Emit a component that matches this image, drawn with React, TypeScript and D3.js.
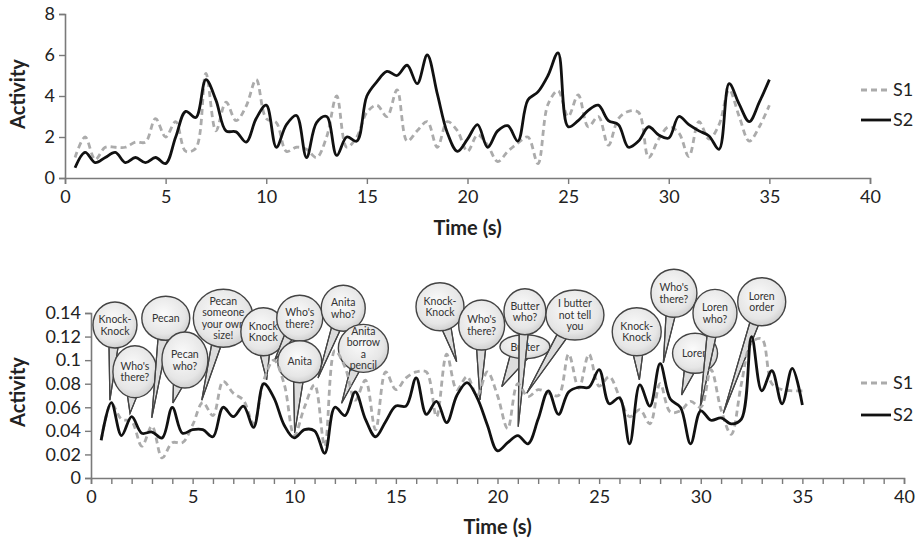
import React, { useEffect, useRef } from 'react';
import * as d3 from 'd3';

// time stamps (s), shared by both panels
const times = [
  0.5, 1, 1.5, 2, 2.5, 3, 3.5, 4, 4.5, 5, 5.5, 6, 6.5, 7, 7.5, 8, 8.5, 9, 9.5, 10,
  10.5, 11, 11.5, 12, 12.5, 13, 13.5, 14, 14.5, 15, 15.5, 16, 16.5, 17, 17.5, 18, 18.5, 19, 19.5, 20,
  20.5, 21, 21.5, 22, 22.5, 23, 23.5, 24, 24.5, 25, 25.5, 26, 26.5, 27, 27.5, 28, 28.5, 29, 29.5, 30,
  30.5, 31, 31.5, 32, 32.5, 33, 33.5, 34, 34.5, 35,
];

// top panel
const topS1 = [
  1.0, 2.0, 0.9, 1.5, 1.5, 1.5, 1.75, 1.75, 2.9, 2.0, 2.75, 1.3, 1.45, 5.1, 2.3, 3.7, 2.8, 3.5, 4.8, 2.9,
  2.7, 1.3, 1.5, 1.4, 1.0, 2.0, 4.0, 1.5, 2.0, 3.2, 3.55, 3.0, 4.3, 1.8, 2.3, 2.75, 1.5, 2.75, 2.3, 1.3,
  2.1, 1.6, 0.8, 1.3, 1.7, 2.0, 0.7, 3.6, 4.25, 3.0, 4.05, 2.5, 3.0, 1.6, 2.9, 3.25, 3.2, 1.0, 1.9, 2.5,
  2.2, 1.05, 2.75, 1.9, 2.6, 4.3, 3.0, 1.8, 2.5, 3.55,
];
const topS2 = [
  0.5, 1.25, 0.75, 1.0, 1.25, 0.75, 1.0, 0.75, 1.0, 0.7, 2.0, 3.25, 2.95, 4.8, 3.8, 2.3, 2.25, 1.75, 2.9, 3.55,
  1.5, 2.6, 3.05, 1.0, 2.7, 3.0, 1.1, 2.0, 1.8, 4.0, 4.7, 5.2, 5.0, 5.5, 4.6, 6.0, 4.1, 2.2, 1.3, 1.9,
  2.6, 1.5, 2.3, 2.55, 1.8, 3.8, 4.2, 5.0, 6.1, 2.5, 2.8, 3.3, 3.55, 2.8, 2.6, 1.5, 1.8, 2.5, 2.1, 1.95,
  3.0, 2.6, 2.3, 2.05, 1.4, 4.6, 3.6, 2.75, 3.7, 4.8,
];

// bottom panel
const botS1 = [
  0.032, 0.063, 0.05, 0.048, 0.027, 0.044, 0.017, 0.03, 0.03, 0.045, 0.064, 0.053, 0.082, 0.072, 0.066, 0.046, 0.083, 0.1, 0.08, 0.036,
  0.06, 0.079, 0.027, 0.108, 0.094, 0.066, 0.083, 0.041, 0.09, 0.075, 0.085, 0.09, 0.09, 0.052, 0.105, 0.075, 0.086, 0.07, 0.09, 0.07,
  0.042, 0.08, 0.069, 0.075, 0.072, 0.07, 0.105, 0.076, 0.105, 0.078, 0.086, 0.069, 0.052, 0.058, 0.046, 0.08, 0.056, 0.057, 0.065, 0.06,
  0.092, 0.058, 0.037, 0.08, 0.115, 0.118, 0.08, 0.075, 0.074, 0.074,
];
const botS2 = [
  0.032, 0.064, 0.036, 0.052, 0.038, 0.039, 0.034, 0.06, 0.038, 0.041, 0.041, 0.035, 0.06, 0.052, 0.061, 0.043, 0.08, 0.068, 0.045, 0.034,
  0.041, 0.04, 0.021, 0.06, 0.053, 0.073, 0.05, 0.035, 0.048, 0.061, 0.061, 0.085, 0.054, 0.065, 0.047, 0.07, 0.081, 0.068, 0.045, 0.023,
  0.03, 0.036, 0.029, 0.05, 0.074, 0.054, 0.073, 0.077, 0.077, 0.092, 0.063, 0.068, 0.029, 0.079, 0.061, 0.097, 0.067, 0.06, 0.029, 0.057,
  0.049, 0.051, 0.046, 0.05, 0.12, 0.074, 0.091, 0.063, 0.093, 0.062,
];

const xTicks = [0, 5, 10, 15, 20, 25, 30, 35, 40];
const topYTicks = [0, 2, 4, 6, 8];
const botYTicks = [0, 0.02, 0.04, 0.06, 0.08, 0.1, 0.12, 0.14];
const seriesNames = ['S1', 'S2'];

// speech bubbles: text, bubble centre (t, activity), tail tip (t, activity), radii in px
const bubbles = [
  { text: ['Pecan', 'someone', 'your own', 'size!'], c: [6.51, 0.1355], tip: [5.45, 0.066], r: [30, 29] },
  { text: ['Knock-', 'Knock'], c: [1.18, 0.1298], tip: [0.93, 0.066], r: [22, 23] },
  { text: ["Who's", 'there?'], c: [2.16, 0.0902], tip: [1.92, 0.055], r: [22, 26] },
  { text: ['Pecan'], c: [3.68, 0.1355], tip: [2.99, 0.051], r: [24, 22] },
  { text: ['Pecan', 'who?'], c: [4.62, 0.1001], tip: [4.03, 0.0636], r: [23, 28] },
  { text: ['Knock', 'Knock'], c: [8.48, 0.1241], tip: [8.64, 0.0832], r: [22.5, 24] },
  { text: ["Who's", 'there?'], c: [10.27, 0.1355], tip: [9.04, 0.1001], r: [23, 23] },
  { text: ['Anita'], c: [10.27, 0.0987], tip: [10.02, 0.0382], r: [22, 21] },
  { text: ['Anita', 'who?'], c: [12.41, 0.144], tip: [11.17, 0.0848], r: [22, 23] },
  { text: ['Anita', 'borrow', 'a', 'pencil'], c: [13.4, 0.11], tip: [12.33, 0.0634], r: [25, 24] },
  { text: ['Knock-', 'Knock'], c: [17.17, 0.1453], tip: [17.99, 0.0987], r: [24, 24] },
  { text: ["Who's", 'there?'], c: [19.22, 0.1298], tip: [19.14, 0.0662], r: [23, 25] },
  { text: ['Butter'], c: [21.35, 0.1114], tip: [20.21, 0.0775], r: [25, 12] },
  { text: ['Butter', 'who?'], c: [21.35, 0.1411], tip: [21.02, 0.0435], r: [21, 23] },
  { text: ['I butter', 'not tell', 'you'], c: [23.81, 0.1383], tip: [21.44, 0.0719], r: [29, 25] },
  { text: ['Knock-', 'Knock'], c: [26.85, 0.1241], tip: [26.98, 0.0832], r: [24.5, 24] },
  { text: ["Who's", 'there?'], c: [28.68, 0.1567], tip: [28.16, 0.0976], r: [23, 24] },
  { text: ['Loren'], c: [29.72, 0.1058], tip: [29.06, 0.0704], r: [22.5, 20] },
  { text: ['Loren', 'who?'], c: [30.7, 0.1397], tip: [29.96, 0.0577], r: [22, 24] },
  { text: ['Loren', 'order'], c: [33.0, 0.1496], tip: [31.11, 0.0549], r: [24, 24] },
];

const FONT = 'Lato, "Open Sans", sans-serif';
const GRAY = '#ababab';
const DARK = '#111';
const AXIS = '#7a7a7a';

function App() {
  const ref = useRef<SVGSVGElement>(null);

  useEffect(() => {
    const svg = d3.select(ref.current);
    svg.selectAll('*').remove();

    const defs = svg.append('defs');
    const grad = defs.append('radialGradient').attr('id', 'bub').attr('cx', '45%').attr('cy', '40%').attr('r', '65%');
    grad.append('stop').attr('offset', '0%').attr('stop-color', '#fbfbfb');
    grad.append('stop').attr('offset', '70%').attr('stop-color', '#e6e6e6');
    grad.append('stop').attr('offset', '100%').attr('stop-color', '#c9c9c9');

    const panel = (
      x: d3.ScaleLinear<number, number>,
      y: d3.ScaleLinear<number, number>,
      yTicks: number[],
      minor: boolean,
      s1: number[],
      s2: number[],
      labelY: number,
      titleY: number,
      legendY: number[],
      withBubbles: boolean,
      tickFont: number,
    ) => {
      const g = svg.append('g');

      const xAxis = d3.axisBottom(x)
        .tickValues(minor ? d3.range(0, 41, 1) : xTicks)
        .tickSize(6)
        .tickPadding(6)
        .tickFormat((d) => (+d % 5 === 0 ? String(d) : ''));
      const xg = g.append('g').attr('transform', `translate(0,${y(0)})`).call(xAxis);

      const yAxis = d3.axisLeft(y)
        .tickValues(yTicks)
        .tickSize(6)
        .tickPadding(4)
        .tickFormat((d) => String(+(+d).toFixed(2)));
      const yg = g.append('g').attr('transform', `translate(${x(0)},0)`).call(yAxis);

      [xg, yg].forEach((a) => {
        a.select('.domain').attr('stroke', AXIS).attr('stroke-width', 1.6);
        a.selectAll('.tick line').attr('stroke', AXIS).attr('stroke-width', 1.4);
        a.selectAll('.tick text').attr('fill', '#222').attr('font-size', tickFont).attr('font-family', FONT);
      });

      g.append('text')
        .attr('transform', `translate(25,${labelY}) rotate(-90)`)
        .attr('text-anchor', 'middle')
        .attr('font-family', FONT).attr('font-weight', 'bold').attr('font-size', 20).attr('fill', '#222')
        .text('Activity');

      g.append('text')
        .attr('x', x(20)).attr('y', titleY)
        .attr('text-anchor', 'middle')
        .attr('font-family', FONT).attr('font-weight', 'bold').attr('font-size', 20).attr('fill', '#222')
        .text('Time (s)');

      if (withBubbles) {
        bubbles.forEach((b) => {
          const cx = x(b.c[0]);
          const cy = y(b.c[1]);
          const tx = x(b.tip[0]);
          const ty = y(b.tip[1]);
          const [rx, ry] = b.r;
          const ang = Math.atan2((ty - cy) / ry, (tx - cx) / rx);
          const d = 4.5 / Math.min(rx, ry);
          const p1 = [cx + rx * Math.cos(ang - d), cy + ry * Math.sin(ang - d)];
          const p2 = [cx + rx * Math.cos(ang + d), cy + ry * Math.sin(ang + d)];
          const bg = g.append('g');
          bg.append('path')
            .attr('d', `M${p1[0]},${p1[1]}L${tx},${ty}L${p2[0]},${p2[1]}Z`)
            .attr('fill', '#dcdcdc').attr('stroke', '#444').attr('stroke-width', 1.2);
          bg.append('ellipse')
            .attr('cx', cx).attr('cy', cy).attr('rx', rx).attr('ry', ry)
            .attr('fill', 'url(#bub)').attr('stroke', '#444').attr('stroke-width', 1.4);
          bg.append('path')
            .attr('d', `M${p1[0]},${p1[1]}L${tx},${ty}L${p2[0]},${p2[1]}`)
            .attr('fill', 'none').attr('stroke', '#444').attr('stroke-width', 1.2);
          const lh = 11.5;
          const t0 = cy - ((b.text.length - 1) * lh) / 2 + 3.8;
          b.text.forEach((line, i) => {
            bg.append('text')
              .attr('x', cx).attr('y', t0 + i * lh)
              .attr('text-anchor', 'middle')
              .attr('font-family', FONT).attr('font-size', 10.5).attr('fill', '#333')
              .text(line);
          });
        });
      }

      const line = (vals: number[]) =>
        d3.line<number>()
          .x((_, i) => x(times[i]))
          .y((v) => y(v))
          .curve(d3.curveCatmullRom.alpha(0.5))(vals);

      g.append('path').attr('d', line(s1)).attr('fill', 'none')
        .attr('stroke', GRAY).attr('stroke-width', 2.8).attr('stroke-dasharray', '6,4');
      g.append('path').attr('d', line(s2)).attr('fill', 'none')
        .attr('stroke', DARK).attr('stroke-width', 2.8);

      seriesNames.forEach((name, i) => {
        const ly = legendY[i];
        g.append('line')
          .attr('x1', 861).attr('x2', 891).attr('y1', ly).attr('y2', ly)
          .attr('stroke', i === 0 ? GRAY : DARK).attr('stroke-width', 2.8)
          .attr('stroke-dasharray', i === 0 ? '6,4' : null);
        g.append('text')
          .attr('x', 893).attr('y', ly + 6)
          .attr('font-family', FONT).attr('font-size', 18).attr('fill', '#222')
          .text(name);
      });
    };

    const xTop = d3.scaleLinear().domain([0, 40]).range([65, 870]);
    const yTop = d3.scaleLinear().domain([0, 8]).range([178, 14]);
    panel(xTop, yTop, topYTicks, false, topS1, topS2, 94, 235, [90, 120], false, 18);

    const xBot = d3.scaleLinear().domain([0, 40]).range([91, 904]);
    const yBot = d3.scaleLinear().domain([0, 0.14]).range([478, 313]);
    panel(xBot, yBot, botYTicks, true, botS1, botS2, 392, 534, [383, 415], true, 18);
  }, []);

  return (
    <svg
      ref={ref}
      width={924}
      height={543}
      style={{ position: 'absolute', left: 0, top: 0, background: '#fff' }}
    />
  );
}

export default App;
